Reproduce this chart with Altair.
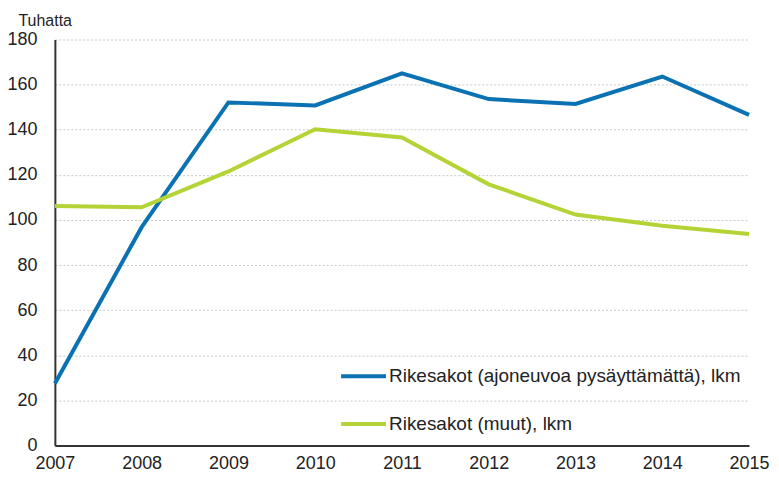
import altair as alt
import pandas as pd

years = [2007, 2008, 2009, 2010, 2011, 2012, 2013, 2014, 2015]
series_names = ["Rikesakot (ajoneuvoa pysäyttämättä), lkm", "Rikesakot (muut), lkm"]
blue_values = [27.5, 96.8, 152.1, 150.8, 165.0, 153.6, 151.4, 163.6, 146.6]
green_values = [106.2, 105.6, 121.5, 140.2, 136.6, 115.8, 102.4, 97.4, 93.8]
colors = ["#0a72b3", "#b4d336"]
y_ticks = [0, 20, 40, 60, 80, 100, 120, 140, 160, 180]

rows = []
for name, vals in zip(series_names, [blue_values, green_values]):
    for yr, v in zip(years, vals):
        rows.append({"year": yr, "value": v, "series": name})
df = pd.DataFrame(rows)

chart = alt.Chart(df).mark_line(strokeWidth=4, strokeCap="butt", strokeJoin="miter").encode(
    x=alt.X("year:Q",
            scale=alt.Scale(domain=[2007, 2015], nice=False, zero=False),
            axis=alt.Axis(values=years, format="d", title=None, grid=False,
                          ticks=False, tickSize=0, labelPadding=9,
                          labelFontSize=18, labelFont="Liberation Sans", labelColor="#222",
                          domainColor="#333", domainWidth=2, labelFlush=False)),
    y=alt.Y("value:Q",
            scale=alt.Scale(domain=[0, 180], nice=False),
            axis=alt.Axis(values=y_ticks, title="Tuhatta", titleAngle=0, titleAlign="left",
                          titleBaseline="alphabetic", titleX=-37, titleY=-14,
                          titleFontSize=16, titleFontWeight="normal", titleFont="Liberation Sans",
                          titleColor="#222",
                          ticks=False, tickSize=0, labelPadding=18,
                          labelFontSize=18, labelFont="Liberation Sans", labelColor="#222",
                          domainColor="#333", domainWidth=2,
                          gridColor="#c8c8c8", gridDash=[2, 2], gridWidth=1)),
    color=alt.Color("series:N",
                    scale=alt.Scale(domain=series_names, range=colors),
                    legend=alt.Legend(title=None, orient="none", legendX=285, legendY=313,
                                      symbolType="stroke", symbolSize=2025, symbolStrokeWidth=4,
                                      labelFontSize=19, labelFont="Liberation Sans", labelColor="#222",
                                      labelOffset=1, rowPadding=13, padding=0, labelLimit=500)),
).properties(
    width=696, height=407,
    padding={"left": 47, "top": 31, "right": 22, "bottom": 27},
    autosize=alt.AutoSizeParams(type="none"),
).configure_view(stroke=None)

chart.save("out.html", embed_options={"renderer": "svg", "actions": False})
